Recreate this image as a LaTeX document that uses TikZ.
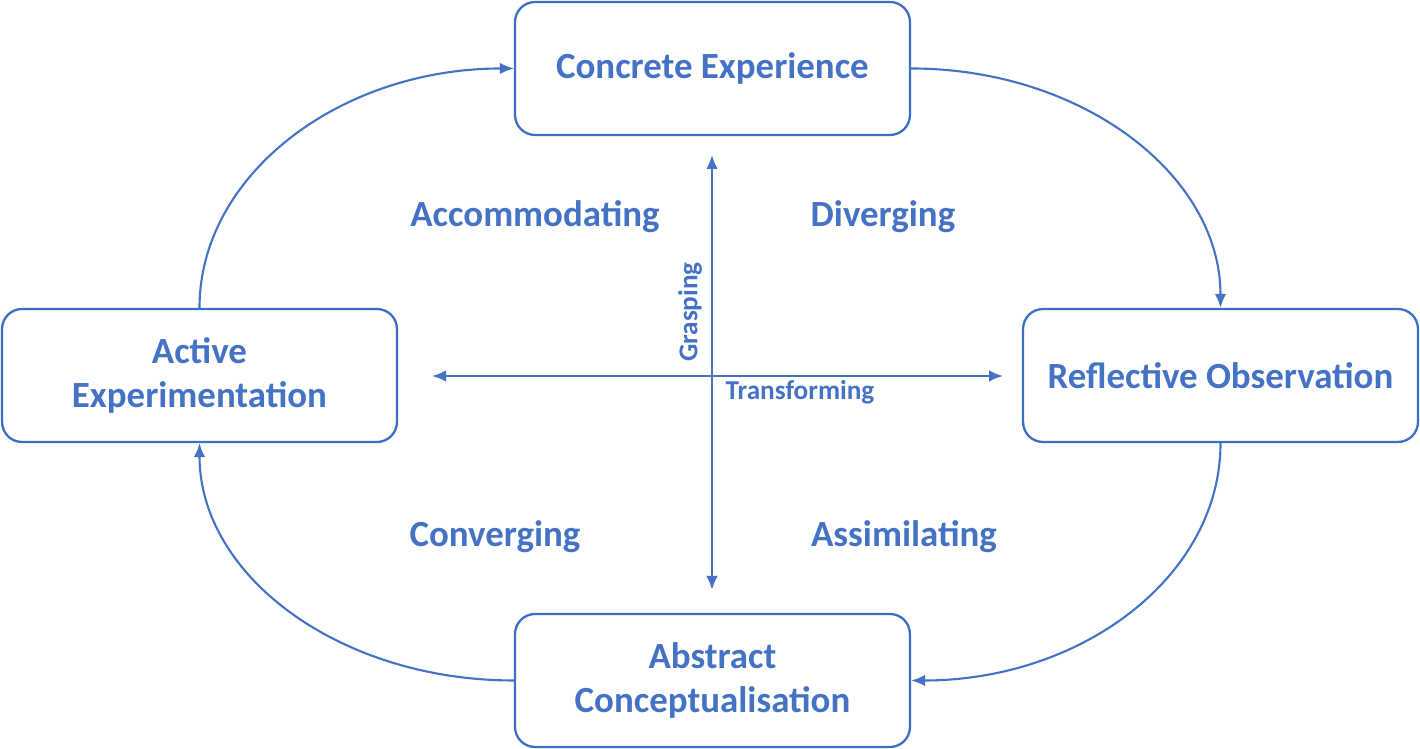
\documentclass[tikz,border=0pt]{standalone}
\usepackage{fontspec}
\setmainfont{Carlito}
\usepackage{xcolor}
\usepackage{tikz}
\usetikzlibrary{arrows.meta}
\usetikzlibrary{positioning}
\definecolor{kblue}{HTML}{4472C4}
\definecolor{kedge}{HTML}{3B6FC6}
\tikzset{>={Latex[length=2.8mm,width=2.3mm]}}
\tikzstyle{stage} = [rectangle, rounded corners=0.4cm, draw=kedge, line width=1.3pt, minimum width=7.9cm, minimum height=2.66cm, align=center, text=kblue, font=\bfseries\fontsize{21}{25.5}\selectfont]
\tikzstyle{style} = [draw=none, text=kblue, font=\bfseries\fontsize{21}{25.5}\selectfont]
\tikzstyle{axislab} = [draw=none, inner sep=0, text=kblue, font=\bfseries\fontsize{15.5}{18}\selectfont]
\tikzstyle{cycle} = [->, draw=kblue, line width=1.2pt]

\begin{document}
\begin{tikzpicture}[x=0.02cm, y=0.02cm]
\useasboundingbox (0,0) rectangle (1420,749);
% the four stages
\node [stage] (CE) at (712.5, 680.5) {Concrete Experience};
\node [stage] (RO) at (1220.5, 373.5) {Reflective Observation};
\node [stage] (AC) at (712.5, 68.5) {Abstract\\Conceptualisation};
\node [stage] (AE) at (199.5, 373.5) {Active\\Experimentation};
% learning styles
\node [style] (acc) at (535, 532) {Accommodating};
\node [style] (div) at (883, 532) {Diverging};
\node [style] (con) at (495, 212) {Converging};
\node [style] (ass) at (904, 212) {Assimilating};
% axes
\coordinate (top) at (712, 594);
\coordinate (bot) at (712, 159);
\coordinate (lft) at (432, 373);
\coordinate (rgt) at (1003, 373);
\draw [<->, draw=kblue, line width=1.1pt] (bot) to (top);
\draw [<->, draw=kblue, line width=1.1pt] (lft) to (rgt);
\node [axislab, rotate=90] (grasp) at (690, 437) {Grasping};
\node [axislab] (trans) at (800, 357) {Transforming};
% the cycle
\draw [cycle] (CE.east) .. controls +(171,0) and +(0,133) .. (RO.north);
\draw [cycle] (RO.south) .. controls +(0,-133) and +(171,0) .. (AC.east);
\draw [cycle] (AC.west) .. controls +(-174,0) and +(0,-133) .. (AE.south);
\draw [cycle] (AE.north) .. controls +(0,133) and +(-174,0) .. (CE.west);
\end{tikzpicture}
\end{document}
